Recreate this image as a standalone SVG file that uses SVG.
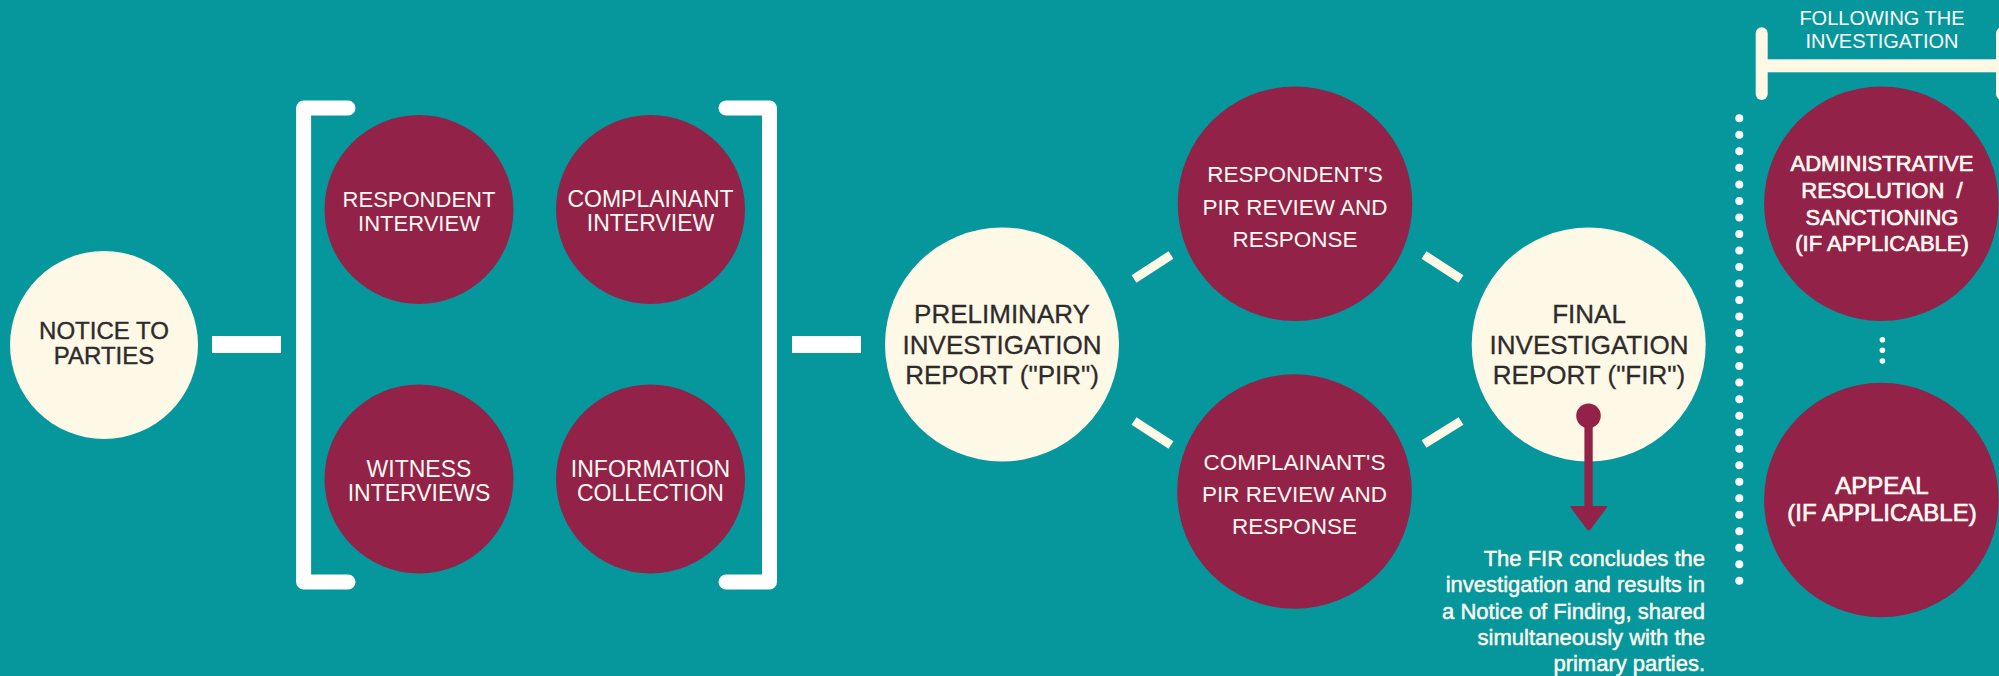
<svg xmlns="http://www.w3.org/2000/svg" width="1999" height="676" viewBox="0 0 1999 676">
<defs>
<style>
.bg{fill:#05979c}
.cream{fill:#fef8e7}
.white{fill:#ffffff}
.maroon{fill:#922248}
.t{font-family:"Liberation Sans",Arial,sans-serif;text-anchor:middle}
.dark{fill:#2e2b2b;font-size:26px}
.light{fill:#fef8f0;font-size:23px}
.lightb{fill:#fef8f0;font-size:22px;stroke:#fef8f0;stroke-width:0.7px}
.bar{fill:none;stroke:#ffffff;stroke-width:15;stroke-linecap:round;stroke-linejoin:round}
.diag{stroke:#fef8e7;stroke-width:9}
.dot{fill:#ffffff}
</style>
</defs>
<rect class="bg" x="0" y="0" width="1999" height="676"/>

<g id="connectors">
<rect class="white" x="212" y="336" width="69" height="17"/>
<rect class="white" x="792" y="336" width="69" height="17"/>
<line class="diag" x1="1134" y1="279" x2="1171" y2="255"/>
<line class="diag" x1="1134" y1="421" x2="1171" y2="445"/>
<line class="diag" x1="1424" y1="255" x2="1461" y2="279"/>
<line class="diag" x1="1424" y1="444" x2="1461" y2="421"/>
</g>

<g id="bracket-left">
<path class="bar" d="M348 108 H303.6 V582 H348"/>
</g>
<g id="bracket-right">
<path class="bar" d="M726 108 H769.5 V582 H726"/>
</g>

<g id="notice">
<circle class="cream" cx="104" cy="345" r="94"/>
<text class="t dark" style="font-size:24px;stroke:#2e2b2b;stroke-width:0.4px"><tspan x="104" y="338.5">NOTICE TO</tspan><tspan x="104" y="363.5">PARTIES</tspan></text>
</g>

<g id="respondent-interview">
<circle class="maroon" cx="419" cy="209.5" r="94.5"/>
<text class="t light" style="font-size:22px"><tspan x="419" y="207">RESPONDENT</tspan><tspan x="419" y="230.5">INTERVIEW</tspan></text>
</g>
<g id="complainant-interview">
<circle class="maroon" cx="650.5" cy="209.5" r="94.5"/>
<text class="t light"><tspan x="650.5" y="207">COMPLAINANT</tspan><tspan x="650.5" y="230.5">INTERVIEW</tspan></text>
</g>
<g id="witness-interviews">
<circle class="maroon" cx="419" cy="479" r="94.5"/>
<text class="t light"><tspan x="419" y="477">WITNESS</tspan><tspan x="419" y="501">INTERVIEWS</tspan></text>
</g>
<g id="information-collection">
<circle class="maroon" cx="650.5" cy="479" r="94.5"/>
<text class="t light"><tspan x="650.5" y="477">INFORMATION</tspan><tspan x="650.5" y="501">COLLECTION</tspan></text>
</g>

<g id="pir">
<circle class="cream" cx="1002" cy="344.5" r="117"/>
<text class="t dark" style="stroke:#2e2b2b;stroke-width:0.3px"><tspan x="1002" y="322.5">PRELIMINARY</tspan><tspan x="1002" y="353.5">INVESTIGATION</tspan><tspan x="1002" y="383.5">REPORT ("PIR")</tspan></text>
</g>

<g id="respondent-pir">
<circle class="maroon" cx="1295" cy="203.7" r="117.3"/>
<text class="t light" style="font-size:22.5px"><tspan x="1295" y="182.4">RESPONDENT'S</tspan><tspan x="1295" y="214.7">PIR REVIEW AND</tspan><tspan x="1295" y="247">RESPONSE</tspan></text>
</g>
<g id="complainant-pir">
<circle class="maroon" cx="1294.5" cy="491.5" r="117.3"/>
<text class="t light" style="font-size:22.5px"><tspan x="1294.5" y="470">COMPLAINANT'S</tspan><tspan x="1294.5" y="502">PIR REVIEW AND</tspan><tspan x="1294.5" y="534">RESPONSE</tspan></text>
</g>

<g id="fir">
<circle class="cream" cx="1588.7" cy="344.5" r="117"/>
<text class="t dark" style="stroke:#2e2b2b;stroke-width:0.3px"><tspan x="1589" y="322.5">FINAL</tspan><tspan x="1589" y="353.5">INVESTIGATION</tspan><tspan x="1589" y="383.5">REPORT ("FIR")</tspan></text>
</g>

<g id="fir-arrow">
<circle class="maroon" cx="1588.5" cy="415.7" r="12.3"/>
<rect class="maroon" x="1584.4" y="415" width="8.3" height="93"/>
<path class="maroon" d="M1571.5 506 H1606 Q1608 506 1606.5 508 L1590.5 529.5 Q1588.7 531.5 1587 529.5 L1571 508 Q1569.5 506 1571.5 506 Z"/>
</g>

<g id="fir-note">
<text style="font-family:'Liberation Sans',Arial,sans-serif;font-size:22px;fill:#fef8f0;stroke:#fef8f0;stroke-width:0.5px;text-anchor:end"><tspan x="1705" y="565.6">The FIR concludes the</tspan><tspan x="1705" y="592">investigation and results in</tspan><tspan x="1705" y="618.5">a Notice of Finding, shared</tspan><tspan x="1705" y="645">simultaneously with the</tspan><tspan x="1705" y="671">primary parties.</tspan></text>
</g>

<g id="separator">
<line x1="1739.3" y1="118.3" x2="1739.3" y2="581" stroke="#ffffff" stroke-width="8" stroke-linecap="round" stroke-dasharray="0 16.52"/>
</g>

<g id="following-header">
<line x1="1761.7" y1="33.3" x2="1761.7" y2="94" stroke="#fef8e7" stroke-width="12" stroke-linecap="round"/>
<rect class="cream" x="1762" y="59.3" width="240" height="13"/>
<line x1="2002" y1="33.3" x2="2002" y2="94" stroke="#fef8e7" stroke-width="12" stroke-linecap="round"/>
<text class="t" style="font-size:20px;fill:#ffffff"><tspan x="1882" y="25">FOLLOWING THE</tspan><tspan x="1882" y="48.3">INVESTIGATION</tspan></text>
</g>

<g id="administrative-resolution">
<circle class="maroon" cx="1881.4" cy="203.7" r="117.3"/>
<text class="t lightb"><tspan x="1882" y="171">ADMINISTRATIVE</tspan><tspan x="1882" y="198.3">RESOLUTION&#160; /</tspan><tspan x="1882" y="224.6">SANCTIONING</tspan><tspan x="1882" y="250.5">(IF APPLICABLE)</tspan></text>
</g>

<g id="mini-dots">
<circle class="dot" cx="1882.4" cy="339.7" r="2.8"/>
<circle class="dot" cx="1882.4" cy="350.3" r="2.8"/>
<circle class="dot" cx="1882.4" cy="361" r="2.8"/>
</g>

<g id="appeal">
<circle class="maroon" cx="1881.4" cy="500" r="117.3"/>
<text class="t lightb" style="font-size:24px"><tspan x="1882" y="493.6">APPEAL</tspan><tspan x="1882" y="520.5">(IF APPLICABLE)</tspan></text>
</g>
</svg>
